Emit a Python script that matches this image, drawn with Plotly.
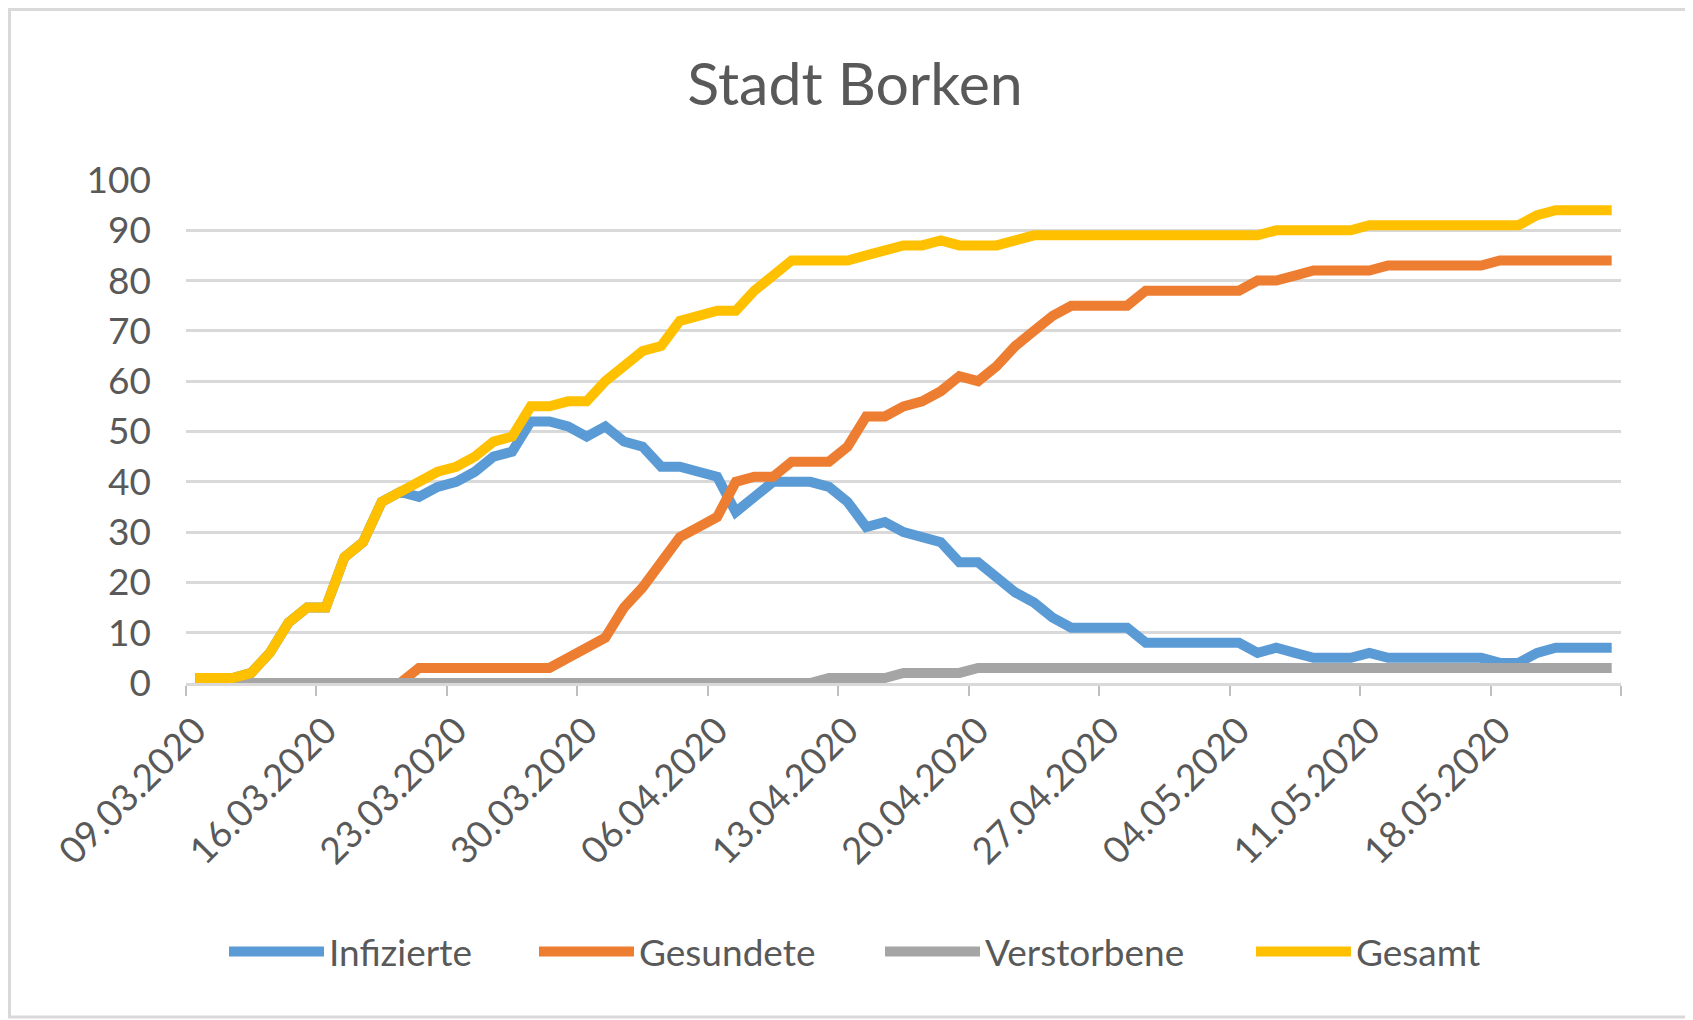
import pandas as pd
import plotly.graph_objects as go

# ---------------- data ----------------
start_date = "2020-03-09"
end_date = "2020-05-24"
dates = pd.date_range(start_date, end_date, freq="D")

infizierte = [1, 1, 1, 2, 6, 12, 15, 15, 25, 28, 36, 38,
              37, 39, 40, 42, 45, 46, 52, 52,
              51, 49, 51, 48, 47, 43, 43, 42, 41, 34,
              37, 40, 40, 40, 39, 36, 31, 32,
              30, 29, 28, 24, 24, 21, 18, 16,
              13, 11, 11, 11, 11, 8, 8, 8, 8, 8, 8,
              6, 7, 6, 5, 5, 5,
              6,
              5, 5, 5, 5, 5, 5,
              4, 4,
              6,
              7, 7, 7, 7]

gesundete = [0, 0, 0, 0, 0, 0, 0, 0, 0, 0, 0, 0,
             3, 3, 3, 3, 3, 3, 3, 3,
             5, 7, 9, 15, 19, 24, 29, 31, 33, 40,
             41, 41, 44, 44, 44, 47, 53, 53,
             55, 56, 58, 61, 60, 63, 67, 70,
             73, 75, 75, 75, 75, 78, 78, 78, 78, 78, 78,
             80, 80, 81, 82, 82, 82,
             82,
             83, 83, 83, 83, 83, 83,
             84, 84, 84, 84, 84, 84, 84]

verstorbene = [0, 0, 0, 0, 0, 0, 0, 0, 0, 0, 0, 0,
               0, 0, 0, 0, 0, 0, 0, 0,
               0, 0, 0, 0, 0, 0, 0, 0, 0, 0,
               0, 0, 0, 0, 1, 1, 1, 1,
               2, 2, 2, 2, 3, 3, 3, 3,
               3, 3, 3, 3, 3, 3, 3, 3, 3, 3, 3,
               3, 3, 3, 3, 3, 3,
               3,
               3, 3, 3, 3, 3, 3,
               3, 3, 3, 3, 3, 3, 3]

gesamt = [1, 1, 1, 2, 6, 12, 15, 15, 25, 28, 36, 38,
          40, 42, 43, 45, 48, 49, 55, 55,
          56, 56, 60, 63, 66, 67, 72, 73, 74, 74,
          78, 81, 84, 84, 84, 84, 85, 86,
          87, 87, 88, 87, 87, 87, 88, 89,
          89, 89, 89, 89, 89, 89, 89, 89, 89, 89, 89,
          89, 90, 90, 90, 90, 90,
          91,
          91, 91, 91, 91, 91, 91,
          91, 91,
          93,
          94, 94, 94, 94]

series_names = ["Infizierte", "Gesundete", "Verstorbene", "Gesamt"]
series_values = [infizierte, gesundete, verstorbene, gesamt]
series_colors = ["#5B9BD5", "#ED7D31", "#A5A5A5", "#FFC000"]
legend_widths = [200, 236, 261, 150]

title_text = "Stadt Borken"

# ---------------- layout constants ----------------
# the page body has an 8px margin; positions below are page pixels
OFF = 8
PAGE_W, PAGE_H = 1693, 1020
W, H = PAGE_W - OFF, PAGE_H - OFF
ML, MT = 186 - OFF, 180 - OFF
MR = PAGE_W - 1621
MB = PAGE_H - 683
PW = W - ML - MR
PH = H - MT - MB
FONT = "Lato"
TXT = "#595959"
GRID = "#D9D9D9"


def px_x(px):
    return (px - OFF - ML) / PW


def px_y(py):
    return (MT + PH - (py - OFF)) / PH


fig = go.Figure()
for name, vals, col, lw in zip(series_names, series_values, series_colors, legend_widths):
    fig.add_trace(go.Scatter(
        x=dates, y=vals, name=name, mode="lines",
        line=dict(color=col, width=10),
        legendwidth=lw,
    ))

half_day = pd.Timedelta(hours=12)
fig.update_layout(
    template="none",
    width=W, height=H,
    margin=dict(l=ML, r=MR, t=MT, b=MB, pad=0),
    paper_bgcolor="white",
    plot_bgcolor="white",
    font=dict(family=FONT, color=TXT, size=37),
    title=dict(text=title_text, x=(855 - OFF) / W, xref="container", xanchor="center",
               y=1 - (84 - OFF) / H, yref="container", yanchor="middle",
               font=dict(family=FONT, size=59, color=TXT)),
    showlegend=True,
    legend=dict(orientation="h", xref="container", yref="container",
                x=(224 - OFF) / W, xanchor="left", y=1 - (952 - OFF) / H, yanchor="middle",
                itemwidth=95, font=dict(family=FONT, size=37, color=TXT),
                bgcolor="rgba(0,0,0,0)", traceorder="normal"),
    xaxis=dict(
        type="date",
        range=[dates[0] - half_day, dates[-1] + half_day],
        tick0=start_date, dtick=7 * 86400000,
        tickformat="%d.%m.%Y", tickangle=-45,
        ticks="", showgrid=False, zeroline=False,
        showline=True, linecolor=GRID, linewidth=2.5,
        tickfont=dict(family=FONT, size=37, color=TXT),
        ticklabelstandoff=8,
        automargin=False,
        minor=dict(ticks="outside", ticklen=10, tickwidth=2, tickcolor="#BFBFBF",
                   tick0=dates[0] - half_day, dtick=7 * 86400000, showgrid=False),
    ),
    yaxis=dict(
        range=[0, 100], dtick=10, tick0=0,
        showgrid=True, gridcolor=GRID, gridwidth=2.5,
        zeroline=False, showline=False, ticks="",
        tickfont=dict(family=FONT, size=37, color=TXT),
        ticklabelstandoff=34,
        automargin=False,
    ),
)

fig.add_shape(type="rect", xref="paper", yref="paper",
              x0=px_x(9.5), x1=px_x(1689), y0=px_y(1017), y1=px_y(9.5),
              line=dict(color=GRID, width=3), layer="below")

fig.write_html("out.html")
